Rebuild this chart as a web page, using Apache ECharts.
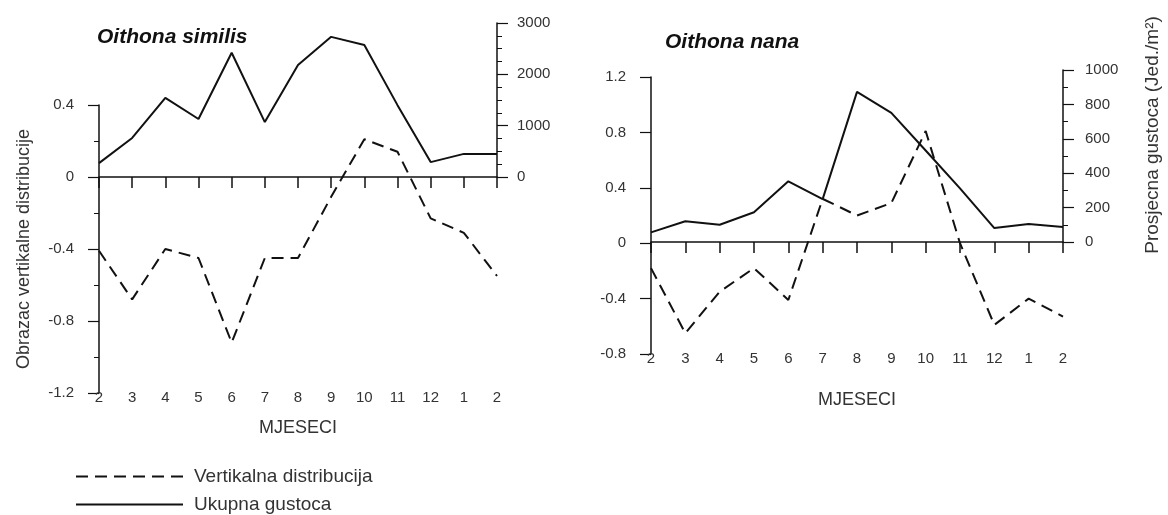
<!DOCTYPE html>
<html>
<head>
<meta charset="utf-8">
<script src="https://cdn.jsdelivr.net/npm/echarts@6/dist/echarts.min.js"></script>
<style>
html,body{margin:0;padding:0;background:#fff;}
#c{width:1168px;height:515px;}
</style>
</head>
<body>
<div id="c"></div>
<script>
// ---- data ----
const months = ['2','3','4','5','6','7','8','9','10','11','12','1','2'];
const similisVert = [-0.41,-0.68,-0.40,-0.45,-0.92,-0.45,-0.45,-0.11,0.21,0.14,-0.23,-0.31,-0.55];
const similisDens = [270,760,1540,1130,2420,1070,2180,2730,2570,1400,290,450,450];
const nanaVert = [-0.18,-0.65,-0.35,-0.18,-0.41,0.32,0.20,0.29,0.81,0.0,-0.59,-0.40,-0.53];
const nanaDens = [56,121,100,173,353,249,873,751,532,312,81,104,87];
const titles = ['Oithona similis','Oithona nana'];
const seriesNames = ['Vertikalna distribucija','Ukupna gustoca'];
const xName = 'MJESECI';
const yLeftName = 'Obrazac vertikalne distribucije';
const yRightName = 'Prosjecna gustoca (Jed./m\u00B2)';

// ---- styles ----
const FONT = "'Liberation Sans', Arial, sans-serif";
const INK = '#111';
const TXT = '#333';
const axisLine = {show:true, onZero:false, lineStyle:{color:INK, width:1.5}};
const tickLbl = {color:TXT, fontSize:15, fontFamily:FONT, formatter:function(v){return String(v);}};

function labelX(grid, gap){
  return {type:'category', gridIndex:grid, data:months, boundaryGap:false, position:'bottom',
    axisLine:{show:false, onZero:false}, axisTick:{show:false},
    axisLabel:{interval:0, margin:-3, color:TXT, fontSize:15, fontFamily:FONT},
    name:xName, nameLocation:'middle', nameGap:gap,
    nameTextStyle:{color:TXT, fontSize:18, fontFamily:FONT}, splitLine:{show:false}};
}
function lineX(grid){
  return {type:'category', gridIndex:grid, data:months, boundaryGap:false, position:'bottom',
    axisLine:axisLine, axisTick:{show:true, length:11, interval:0, lineStyle:{color:INK, width:1.5}},
    axisLabel:{show:false}, splitLine:{show:false}};
}
function valY(grid, pos, min, max, interval, minorSplit, margin, extra){
  return Object.assign({type:'value', gridIndex:grid, position:pos, min:min, max:max, interval:interval,
    axisLine:axisLine, axisTick:{show:true, length:11, lineStyle:{color:INK, width:1.2}},
    minorTick:{show:minorSplit>0, splitNumber:minorSplit||5, length:5, lineStyle:{color:INK, width:1}},
    axisLabel:Object.assign({margin:margin}, tickLbl),
    splitLine:{show:false}, minorSplitLine:{show:false}}, extra||{});
}
function ser(name, xi, yi, data, dashed){
  return {name:name, type:'line', xAxisIndex:xi, yAxisIndex:yi, data:data, symbol:'none',
    lineStyle:{color:INK, width:2, type: dashed ? [12,7] : 'solid'}, itemStyle:{color:INK}};
}
function legendItem(name, top){
  return {data:[name], orient:'vertical', left:75, top:top, padding:0, itemWidth:107, itemHeight:14,
    itemStyle:{opacity:0, borderWidth:0},
    textStyle:{color:TXT, fontSize:19, fontFamily:FONT, padding:[0,0,0,6]}, selectedMode:false};
}

const chart = echarts.init(document.getElementById('c'), null, {renderer:'canvas'});
chart.setOption({
  animation:false,
  backgroundColor:'#fff',
  title:[
    {text:titles[0], left:97, top:27, padding:0, textStyle:{fontSize:21, fontWeight:'bold', fontStyle:'italic', color:INK, fontFamily:FONT}},
    {text:titles[1], left:665, top:32, padding:0, textStyle:{fontSize:21, fontWeight:'bold', fontStyle:'italic', color:INK, fontFamily:FONT}}
  ],
  legend:[ legendItem(seriesNames[0], 467), legendItem(seriesNames[1], 495) ],
  grid:[
    {left:99, right:671, top:105, bottom:122},
    {left:99, right:671, top:23, bottom:338},
    {left:651, right:105, top:77, bottom:161},
    {left:651, right:105, top:70, bottom:273}
  ],
  xAxis:[ labelX(0, 26), lineX(1), labelX(2, 37), lineX(3) ],
  yAxis:[
    valY(0, 'left', -1.2, 0.4, 0.4, 2, 25, {name:yLeftName, nameLocation:'middle', nameRotate:90, nameGap:66,
      nameTextStyle:{color:TXT, fontSize:18, fontFamily:FONT}}),
    valY(1, 'right', 0, 3000, 1000, 4, 20),
    valY(2, 'left', -0.8, 1.2, 0.4, 0, 25),
    valY(3, 'right', 0, 1000, 200, 2, 22)
  ],
  graphic:[
    {type:'text', x:1153, y:135, rotation:Math.PI/2,
      style:{text:yRightName, fill:TXT, font:"19px 'Liberation Sans', Arial, sans-serif", align:'center', verticalAlign:'middle'}}
  ],
  series:[
    ser(seriesNames[0], 0, 0, similisVert, true),
    ser(seriesNames[1], 1, 1, similisDens, false),
    ser(seriesNames[0], 2, 2, nanaVert, true),
    ser(seriesNames[1], 3, 3, nanaDens, false)
  ]
});
</script>
</body>
</html>
